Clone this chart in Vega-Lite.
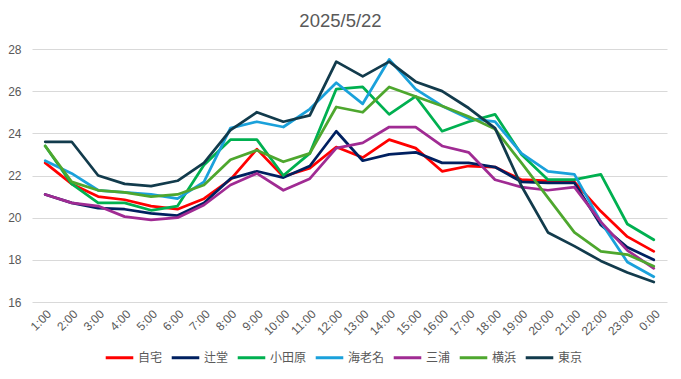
{
  "$schema": "https://vega.github.io/schema/vega-lite/v6.json",
  "width": 635,
  "height": 253,
  "autosize": {"type": "none"},
  "padding": {"left": 32, "top": 49, "right": 14, "bottom": 77},
  "background": "white",
  "title": {
    "text": "2025/5/22",
    "font": "Liberation Sans",
    "fontSize": 18.5,
    "fontWeight": "normal",
    "color": "#595959",
    "anchor": "middle",
    "dx": -9,
    "offset": 13
  },
  "data": {
    "values": [
      {"time": "1:00", "自宅": 22.6, "辻堂": 21.1, "小田原": 23.4, "海老名": 22.7, "三浦": 21.1, "横浜": 23.4, "東京": 23.6},
      {"time": "2:00", "自宅": 21.6, "辻堂": 20.7, "小田原": 21.6, "海老名": 22.1, "三浦": 20.7, "横浜": 21.7, "東京": 23.6},
      {"time": "3:00", "自宅": 21.0, "辻堂": 20.45, "小田原": 20.7, "海老名": 21.3, "三浦": 20.55, "横浜": 21.3, "東京": 22.0},
      {"time": "4:00", "自宅": 20.85, "辻堂": 20.4, "小田原": 20.7, "海老名": 21.2, "三浦": 20.05, "横浜": 21.2, "東京": 21.6},
      {"time": "5:00", "自宅": 20.55, "辻堂": 20.2, "小田原": 20.35, "海老名": 21.1, "三浦": 19.9, "横浜": 21.0, "東京": 21.5},
      {"time": "6:00", "自宅": 20.4, "辻堂": 20.1, "小田原": 20.55, "海老名": 20.9, "三浦": 20.0, "横浜": 21.1, "東京": 21.75},
      {"time": "7:00", "自宅": 20.9, "辻堂": 20.7, "小田原": 22.5, "海老名": 21.7, "三浦": 20.6, "横浜": 21.55, "東京": 22.6},
      {"time": "8:00", "自宅": 21.8, "辻堂": 21.85, "小田原": 23.7, "海老名": 24.25, "三浦": 21.55, "横浜": 22.75, "東京": 24.15},
      {"time": "9:00", "自宅": 23.25, "辻堂": 22.2, "小田原": 23.7, "海老名": 24.55, "三浦": 22.1, "横浜": 23.2, "東京": 25.0},
      {"time": "10:00", "自宅": 21.95, "辻堂": 21.9, "小田原": 22.0, "海老名": 24.3, "三浦": 21.3, "横浜": 22.65, "東京": 24.55},
      {"time": "11:00", "自宅": 22.35, "辻堂": 22.45, "小田原": 23.05, "海老名": 25.15, "三浦": 21.85, "横浜": 23.05, "東京": 24.85},
      {"time": "12:00", "自宅": 23.35, "辻堂": 24.1, "小田原": 26.1, "海老名": 26.4, "三浦": 23.3, "横浜": 25.25, "東京": 27.4},
      {"time": "13:00", "自宅": 22.85, "辻堂": 22.7, "小田原": 26.2, "海老名": 25.4, "三浦": 23.55, "横浜": 25.0, "東京": 26.7},
      {"time": "14:00", "自宅": 23.7, "辻堂": 23.0, "小田原": 24.9, "海老名": 27.5, "三浦": 24.3, "横浜": 26.2, "東京": 27.4},
      {"time": "15:00", "自宅": 23.3, "辻堂": 23.1, "小田原": 25.75, "海老名": 26.1, "三浦": 24.3, "横浜": 25.75, "東京": 26.45},
      {"time": "16:00", "自宅": 22.2, "辻堂": 22.6, "小田原": 24.1, "海老名": 25.3, "三浦": 23.4, "横浜": 25.3, "東京": 26.0},
      {"time": "17:00", "自宅": 22.45, "辻堂": 22.6, "小田原": 24.55, "海老名": 24.7, "三浦": 23.1, "横浜": 24.8, "東京": 25.2},
      {"time": "18:00", "自宅": 22.4, "辻堂": 22.4, "小田原": 24.9, "海老名": 24.55, "三浦": 21.8, "横浜": 24.2, "東京": 24.25},
      {"time": "19:00", "自宅": 21.8, "辻堂": 21.7, "小田原": 23.0, "海老名": 23.05, "三浦": 21.45, "横浜": 22.6, "東京": 21.5},
      {"time": "20:00", "自宅": 21.75, "辻堂": 21.65, "小田原": 21.8, "海老名": 22.2, "三浦": 21.3, "横浜": 20.95, "東京": 19.3},
      {"time": "21:00", "自宅": 21.7, "辻堂": 21.65, "小田原": 21.8, "海老名": 22.05, "三浦": 21.45, "横浜": 19.3, "東京": 18.65},
      {"time": "22:00", "自宅": 20.3, "辻堂": 19.65, "小田原": 22.05, "海老名": 19.8, "三浦": 19.8, "横浜": 18.4, "東京": 17.95},
      {"time": "23:00", "自宅": 19.1, "辻堂": 18.6, "小田原": 19.7, "海老名": 17.9, "三浦": 18.45, "横浜": 18.25, "東京": 17.4},
      {"time": "0:00", "自宅": 18.4, "辻堂": 18.0, "小田原": 18.95, "海老名": 17.2, "三浦": 17.6, "横浜": 17.7, "東京": 16.95}
    ]
  },
  "transform": [
    {"fold": ["自宅", "辻堂", "小田原", "海老名", "三浦", "横浜", "東京"], "as": ["site", "temp"]}
  ],
  "mark": {"type": "line", "strokeWidth": 2.75, "strokeJoin": "round", "strokeCap": "round"},
  "encoding": {
    "x": {
      "field": "time",
      "type": "nominal",
      "sort": null,
      "scale": {"type": "point", "padding": 0.5},
      "axis": {
        "title": null,
        "labelAngle": -45,
        "labelFont": "Liberation Sans",
        "labelFontSize": 12,
        "labelColor": "#595959",
        "domain": false,
        "ticks": false,
        "grid": false,
        "labelPadding": 6
      }
    },
    "y": {
      "field": "temp",
      "type": "quantitative",
      "scale": {"domain": [16, 28], "nice": false, "zero": false},
      "axis": {
        "title": null,
        "values": [16, 18, 20, 22, 24, 26, 28],
        "labelFont": "Liberation Sans",
        "labelFontSize": 12,
        "labelColor": "#595959",
        "domain": false,
        "ticks": false,
        "gridColor": "#D9D9D9",
        "gridWidth": 1,
        "labelPadding": 11
      }
    },
    "color": {
      "field": "site",
      "type": "nominal",
      "scale": {
        "domain": ["自宅", "辻堂", "小田原", "海老名", "三浦", "横浜", "東京"],
        "range": ["#FF0000", "#002060", "#00B050", "#1AA1DB", "#A02B93", "#4EA72E", "#123B4C"]
      },
      "legend": {
        "title": null,
        "orient": "none",
        "direction": "horizontal",
        "legendX": 72,
        "legendY": 293,
        "symbolType": "stroke",
        "symbolSize": 760,
        "symbolStrokeWidth": 3,
        "labelFont": "Noto Sans CJK JP",
        "labelFontSize": 12,
        "labelColor": "#595959",
        "labelOffset": 3,
        "columnPadding": 2
      }
    }
  },
  "config": {
    "view": {"stroke": null}
  }
}
